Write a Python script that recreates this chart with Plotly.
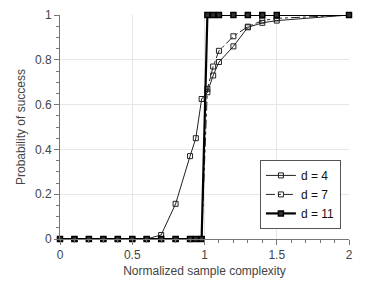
import plotly.graph_objects as go

x_d4 = [0, 0.1, 0.2, 0.3, 0.4, 0.5, 0.6, 0.7, 0.8, 0.9, 0.94, 0.98, 1.02, 1.06, 1.1, 1.2, 1.3, 1.4, 1.5, 2.0]
y_d4 = [0, 0, 0, 0, 0, 0, 0, 0.018, 0.157, 0.37, 0.45, 0.625, 0.655, 0.73, 0.79, 0.86, 0.945, 0.965, 0.975, 1.0]

x_d7 = [0, 0.1, 0.2, 0.3, 0.4, 0.5, 0.6, 0.7, 0.8, 0.9, 0.94, 0.98, 1.02, 1.06, 1.1, 1.2, 1.3, 1.4, 1.5, 2.0]
y_d7 = [0, 0, 0, 0, 0, 0, 0, 0, 0, 0, 0, 0, 0.67, 0.77, 0.84, 0.905, 0.948, 0.975, 0.985, 1.0]

x_d11 = [0, 0.1, 0.2, 0.3, 0.4, 0.5, 0.6, 0.7, 0.8, 0.9, 0.94, 0.98, 1.02, 1.06, 1.1, 1.2, 1.3, 1.4, 1.5, 2.0]
y_d11 = [0, 0, 0, 0, 0, 0, 0, 0, 0, 0, 0, 0, 1.0, 1.0, 1.0, 1.0, 1.0, 1.0, 1.0, 1.0]

names = ["d = 4", "d = 7", "d = 11"]

FONT = "Liberation Sans, Arial, sans-serif"

fig = go.Figure()
fig.add_trace(go.Scatter(
    x=x_d4, y=y_d4, name=names[0], mode="lines+markers",
    line=dict(color="#222", width=1),
    marker=dict(symbol="square-open", size=5, color="#222", line=dict(width=1)),
    cliponaxis=False))
fig.add_trace(go.Scatter(
    x=x_d7, y=y_d7, name=names[1], mode="lines+markers",
    line=dict(color="#222", width=1, dash="dashdot"),
    marker=dict(symbol="square-open", size=5, color="#222", line=dict(width=1)),
    cliponaxis=False))
fig.add_trace(go.Scatter(
    x=x_d11, y=y_d11, name=names[2], mode="lines+markers",
    line=dict(color="#000", width=2.2),
    marker=dict(symbol="square", size=5, color="#333", line=dict(width=1.5, color="#000")),
    cliponaxis=False))

axis_common = dict(
    showline=True, linecolor="#777", linewidth=1, mirror=False,
    ticks="outside", ticklen=5, tickcolor="#777", tickwidth=1,
    showgrid=True, gridcolor="#e6e6e6", gridwidth=1, zeroline=False,
    automargin=False,
    tickfont=dict(family=FONT, size=12, color="#444"),
)

fig.update_xaxes(
    range=[0, 2], tickvals=[0, 0.5, 1, 1.5, 2], ticktext=["0", "0.5", "1", "1.5", "2"],
    minor=dict(dtick=0.1, ticks="outside", ticklen=3, tickcolor="#777", showgrid=False),
    title=dict(text="Normalized sample complexity", standoff=5,
               font=dict(family=FONT, size=12, color="#444")),
    **axis_common)
fig.update_yaxes(
    range=[0, 1], tickvals=[0, 0.2, 0.4, 0.6, 0.8, 1], ticktext=["0", "0.2", "0.4", "0.6", "0.8", "1"],
    minor=dict(dtick=0.05, ticks="outside", ticklen=3, tickcolor="#777", showgrid=False),
    title=dict(text="Probability of success", standoff=6,
               font=dict(family=FONT, size=12, color="#444")),
    **axis_common)

fig.update_layout(
    width=366, height=277,
    margin=dict(l=52, r=25, t=7, b=46),
    plot_bgcolor="white", paper_bgcolor="white",
    legend=dict(x=0.972, y=0.045, xanchor="right", yanchor="bottom",
                bordercolor="#555", borderwidth=1, bgcolor="white",
                font=dict(family=FONT, size=12, color="#111"),
                tracegroupgap=0, itemwidth=30),
    showlegend=True,
)

fig.write_html("out.html")
